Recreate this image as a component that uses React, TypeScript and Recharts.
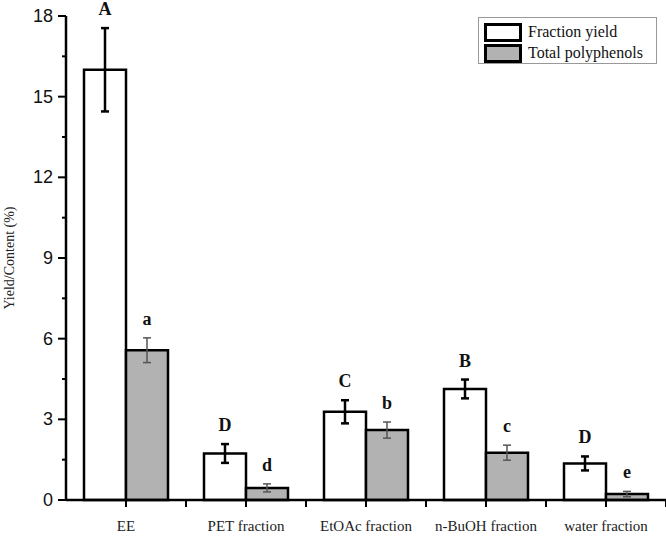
import React from 'react';
import {
  BarChart,
  Bar,
  XAxis,
  YAxis,
  ErrorBar,
  LabelList,
  Legend,
} from 'recharts';

const categories = ['EE', 'PET fraction', 'EtOAc fraction', 'n-BuOH fraction', 'water fraction'];
const fractionYield = [16.0, 1.73, 3.28, 4.13, 1.36];
const fractionYieldErr = [1.55, 0.35, 0.43, 0.35, 0.26];
const yieldLetters = ['A', 'D', 'C', 'B', 'D'];
const polyphenols = [5.57, 0.45, 2.6, 1.76, 0.22];
const polyphenolsErr = [0.46, 0.15, 0.3, 0.28, 0.1];
const polyLetters = ['a', 'd', 'b', 'c', 'e'];
const yTicks = [0, 1.5, 3, 4.5, 6, 7.5, 9, 10.5, 12, 13.5, 15, 16.5, 18];

const data = categories.map((name, i) => ({
  name,
  yield: fractionYield[i],
  yieldErr: fractionYieldErr[i],
  poly: polyphenols[i],
  polyErr: polyphenolsErr[i],
}));

const SERIF = '"Liberation Serif", "Times New Roman", serif';
const SANS = '"Liberation Sans", Arial, sans-serif';
const GRAY = '#b2b2b2';

const YTick = (props: any) => {
  const { x, y, payload } = props;
  const major = payload.value % 3 === 0;
  return (
    <g>
      <line x1={x + (major ? 0 : 4)} y1={y} x2={x + 8} y2={y} stroke="#000" strokeWidth={2} />
      {major && (
        <text x={x - 5} y={y} dy={6} textAnchor="end" fontFamily={SANS} fontSize={18} fill="#111">
          {payload.value}
        </text>
      )}
    </g>
  );
};

const XTick = (props: any) => {
  const { x, y, payload } = props;
  const half = 60;
  return (
    <g>
      <line x1={x} y1={y - 7} x2={x} y2={y} stroke="#000" strokeWidth={2} />
      <line x1={x + half} y1={y - 7} x2={x + half} y2={y} stroke="#000" strokeWidth={2} />
      <text x={x} y={y + 24} textAnchor="middle" fontFamily={SERIF} fontSize={15} fill="#222">
        {payload.value}
      </text>
    </g>
  );
};

const letterLabel = (letters: string[], errs: number[]) => (props: any) => {
  const { x, y, width, height, value, index } = props;
  const px = height / value;
  const top = y - errs[index] * px;
  return (
    <text
      x={x + width / 2}
      y={top - 13}
      textAnchor="middle"
      fontFamily={SERIF}
      fontSize={18}
      fontWeight={600}
      fill="#111"
    >
      {letters[index]}
    </text>
  );
};

const LegendBox = () => (
  <div
    style={{
      width: 179,
      height: 47,
      boxSizing: 'border-box',
      border: '1px solid #999',
      background: '#fff',
      padding: '4px 0 0 5px',
      fontFamily: SERIF,
      fontSize: 16,
      color: '#111',
    }}
  >
    {[
      { label: 'Fraction yield', fill: '#fff' },
      { label: 'Total polyphenols', fill: GRAY },
    ].map((it) => (
      <div key={it.label} style={{ display: 'flex', alignItems: 'center', height: 20, marginBottom: 1 }}>
        <div
          style={{
            width: 38,
            height: 19,
            boxSizing: 'border-box',
            border: '3px solid #000',
            background: it.fill,
            marginRight: 6,
          }}
        />
        <span style={{ lineHeight: '20px' }}>{it.label}</span>
      </div>
    ))}
  </div>
);

export default function App() {
  return (
    <div style={{ position: 'absolute', left: 0, top: 0, width: 666, height: 536, background: '#fff' }}>
      <BarChart
        width={666}
        height={536}
        data={data}
        margin={{ top: 16, right: 0, bottom: 0, left: 0 }}
        barCategoryGap="15%"
        barGap={0}
      >
        <XAxis
          dataKey="name"
          height={36}
          tickSize={7}
          tickMargin={0}
          tickLine={false}
          tick={<XTick />}
          axisLine={{ stroke: '#000', strokeWidth: 2.5 }}
          interval={0}
        />
        <YAxis
          domain={[0, 18]}
          ticks={yTicks}
          width={66}
          tickSize={8}
          tickMargin={0}
          tickLine={false}
          tick={<YTick />}
          interval={0}
          axisLine={{ stroke: '#000', strokeWidth: 2.5 }}
          label={{
            value: 'Yield/Content (%)',
            angle: -90,
            position: 'insideLeft',
            dx: 4,
            style: { fontFamily: SERIF, fontSize: 14, fill: '#222', textAnchor: 'middle' },
          }}
        />
        <Legend
          layout="vertical"
          align="center"
          verticalAlign="middle"
          wrapperStyle={{ top: 17, left: 478, width: 179 }}
          content={<LegendBox />}
        />
        <Bar dataKey="yield" fill="#fff" stroke="#000" strokeWidth={2.5} isAnimationActive={false}>
          <ErrorBar dataKey="yieldErr" width={4} stroke="#000" strokeWidth={2.5} />
          <LabelList dataKey="yield" content={letterLabel(yieldLetters, fractionYieldErr)} />
        </Bar>
        <Bar dataKey="poly" fill={GRAY} stroke="#000" strokeWidth={2.5} isAnimationActive={false}>
          <ErrorBar dataKey="polyErr" width={4} stroke="#555" strokeWidth={1.5} />
          <LabelList dataKey="poly" content={letterLabel(polyLetters, polyphenolsErr)} />
        </Bar>
      </BarChart>
    </div>
  );
}
